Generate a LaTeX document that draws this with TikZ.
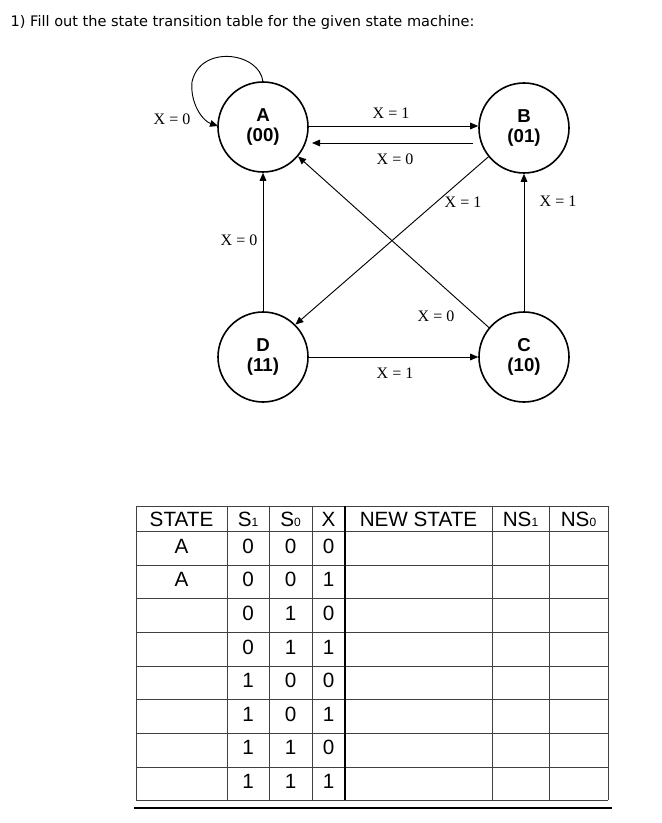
\documentclass[tikz,border=0pt]{standalone}
\usepackage{fontspec}
\setmainfont{Liberation Sans}
\newfontfamily\ser{Liberation Serif}
\newfontfamily\dv{DejaVu Sans}
\usetikzlibrary{arrows.meta}
\begin{document}
\begin{tikzpicture}[x=0.75pt,y=-0.75pt,
  st/.style={circle,draw,line width=1.2pt,minimum size=67.5pt,inner sep=0pt,align=center,font=\bfseries\fontsize{14}{15.5}\selectfont},
  tr/.style={-{Triangle[length=6pt,width=5pt]},line width=0.7pt},
  lb/.style={font=\ser\fontsize{12}{13}\selectfont,inner sep=1pt},
  tx/.style={font=\fontsize{15.5}{16}\selectfont,inner sep=0pt},
  grid/.style={line width=0.7pt,draw=black!75}]
\useasboundingbox (0,0) rectangle (661,823);
\node[anchor=west,font=\dv\fontsize{10.9}{12}\selectfont] (title) at (6,22) {1) Fill out the state transition table for the given state machine:};
\node[st] (A) at (263,127) {A\\(00)};
\node[st] (B) at (524,128) {B\\(01)};
\node[st] (D) at (263,357) {D\\(11)};
\node[st] (C) at (524,357) {C\\(10)};
% transitions
\coordinate (lp1) at (263,82);
\coordinate (lp2) at (192,82);
\coordinate (lp3) at (218,126);
\draw[tr] (lp1) .. controls (260,52) and (200,44) .. (lp2) .. controls (190,104) and (203,121) .. (lp3);
\node[lb] (l1) at (172,119) {X = 0};
\draw[tr] (A.east |- 0,126) -- (B.west |- 0,126);
\node[lb] (l2) at (391,113) {X = 1};
\draw[tr] (473,143) -- (312,143);
\node[lb] (l3) at (395,159) {X = 0};
\draw[tr] (D.north) -- (A.south);
\node[lb] (l4) at (239,240) {X = 0};
\draw[tr] (C.north) -- (B.south);
\node[lb] (l5) at (558,201) {X = 1};
\draw[tr] (B.-141) -- (D.45);
\node[lb] (l6) at (463,202) {X = 1};
\draw[tr] (C.140) -- (A.-40);
\node[lb] (l7) at (436,316) {X = 0};
\draw[tr] (D.east) -- (C.west);
\node[lb] (l8) at (395,373) {X = 1};
% table
\foreach \y in {506,531,565,598,632,666,699,733,767,800} \draw[grid] (136,\y) -- (608,\y);
\foreach \x in {136,227,269,312,492,549,608} \draw[grid] (\x,506) -- (\x,800);
\draw[line width=2.2pt] (345,506) -- (345,800);
\draw[line width=0.8pt] (134,808) -- (612,808);
\newcommand\sub[1]{{\fontsize{9}{9}\selectfont #1}}
\node[tx] (h1) at (181.5,519) {STATE};
\node[tx] (h2) at (248,519) {S\sub{1}};
\node[tx] (h3) at (290.5,519) {S\sub{0}};
\node[tx] (h4) at (328.5,519) {X};
\node[tx] (h5) at (418.5,519) {NEW STATE};
\node[tx] (h6) at (520.5,519) {NS\sub{1}};
\node[tx] (h7) at (578.5,519) {NS\sub{0}};
\node[tx] (sa1) at (181.5,546) {A};
\node[tx] (sa2) at (181.5,579) {A};
\foreach \y/\a/\b/\c [count=\i] in {546/0/0/0,579/0/0/1,613/0/1/0,647/0/1/1,680/1/0/0,714/1/0/1,747/1/1/0,781/1/1/1}{
  \node[tx] (r\i a) at (248,\y) {\a};
  \node[tx] (r\i b) at (290.5,\y) {\b};
  \node[tx] (r\i c) at (328.5,\y) {\c};
}
\end{tikzpicture}
\end{document}
